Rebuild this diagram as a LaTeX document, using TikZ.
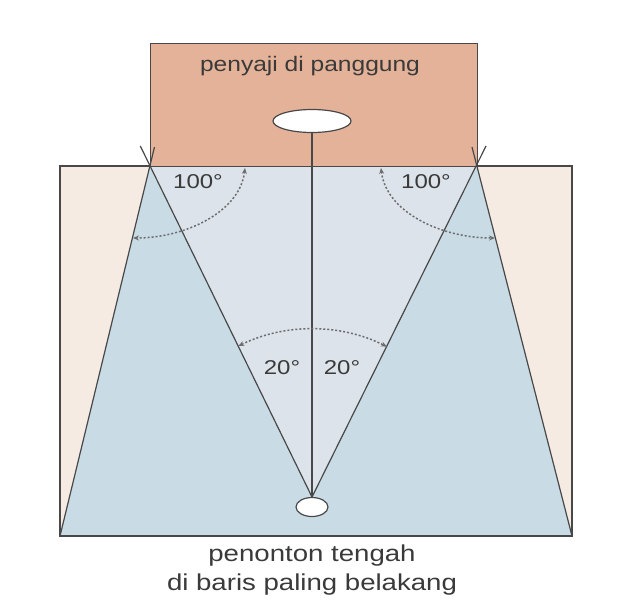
\documentclass[tikz,border=0pt]{standalone}
\usepackage{graphicx}
\usepackage{fontspec}
\setmainfont{Liberation Sans}
\usetikzlibrary{arrows.meta,shapes.geometric}
\definecolor{peach}{HTML}{F5EBE3}
\definecolor{stagec}{HTML}{E4B298}
\definecolor{bluec}{HTML}{C9DCE6}
\definecolor{vblue}{HTML}{DCE3EA}
\definecolor{ink}{HTML}{484848}
\definecolor{txt}{HTML}{3A3A3A}
\tikzset{
  edge/.style={draw=ink, line width=1.2pt},
  dotarc/.style={draw=ink!80, line width=1.5pt, dash pattern=on 2pt off 2pt,
    {Stealth[length=6pt,width=5pt]}-{Stealth[length=6pt,width=5pt]}},
  oval/.style={ellipse, draw=ink, line width=1.2pt, fill=white, inner sep=0pt},
  lbl/.style={text=txt, inner sep=0pt},
}
\begin{document}
\begin{tikzpicture}[x={(1pt,0)}, y={(0,-1pt)}]
\useasboundingbox[fill=white] (0,0) rectangle (636,602);
% corner coordinates
\coordinate (SL) at (150,166);
\coordinate (SR) at (477,166);
\coordinate (BL) at (60,536);
\coordinate (BR) at (572,536);
\coordinate (V) at (312,497);
% audience area
\filldraw[fill=peach, draw=ink, line width=1.2pt] (60,166) rectangle (572,536);
\fill[bluec] (BL) -- (SL) -- (SR) -- (BR) -- cycle;
\fill[vblue] (V) -- (SL) -- (SR) -- cycle;
\draw[edge] (BL) -- (BR);
% stage
\node[draw=ink, line width=1.2pt, fill=stagec, minimum width=327pt, minimum height=123pt, inner sep=0pt, anchor=north west] (stage) at (150,43) {};
\node[lbl] (stagetxt) at (310,66) {\fontsize{21}{25}\selectfont\scalebox{1.17}[1]{penyaji di panggung}};
% ovals
\node[oval, minimum width=78pt, minimum height=23pt] (perf) at (312,121) {};
\node[oval, minimum width=32pt, minimum height=19pt] (aud) at (312,507) {};
% lines
\coordinate (VLend) at (140.3,146);
\coordinate (VRend) at (486,146);
\coordinate (OLend) at (154.5,147);
\coordinate (ORend) at (472,147);
\draw[edge] (V) -- (VLend);
\draw[edge] (V) -- (VRend);
\draw[edge] (BL) -- (OLend);
\draw[edge] (BR) -- (ORend);
\draw[edge] (perf.south) -- (aud.north);
% arcs
\draw[dotarc] (245,168) .. controls (240,212) and (185,238) .. (133,238);
\draw[dotarc] (381,168) .. controls (386,212) and (441,238) .. (495,238);
\draw[dotarc] (V) ++(-116:168) arc[start angle=-116, end angle=-63.5, radius=168];
% labels
\node[lbl] (a1) at (198,182) {\fontsize{20}{22}\selectfont\scalebox{1.2}[1]{100°}};
\node[lbl] (a2) at (426,182) {\fontsize{20}{22}\selectfont\scalebox{1.2}[1]{100°}};
\node[lbl] (b1) at (282,368) {\fontsize{20}{22}\selectfont\scalebox{1.2}[1]{20°}};
\node[lbl] (b2) at (342,368) {\fontsize{20}{22}\selectfont\scalebox{1.2}[1]{20°}};
\node[lbl] (c1) at (312,556) {\fontsize{23}{26}\selectfont\scalebox{1.2}[1]{penonton tengah}};
\node[lbl] (c2) at (312,585) {\fontsize{23}{26}\selectfont\scalebox{1.2}[1]{di baris paling belakang}};
\end{tikzpicture}
\end{document}
